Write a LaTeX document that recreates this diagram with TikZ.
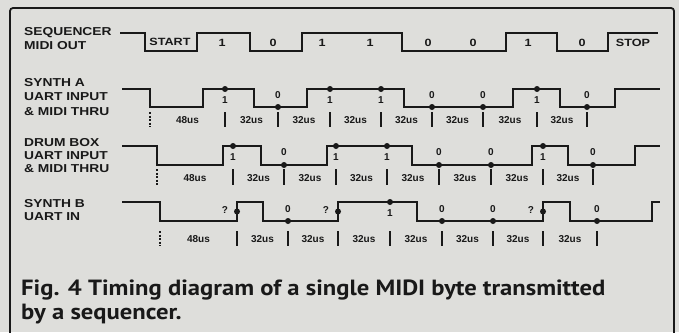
\documentclass[tikz,border=0pt]{standalone}
\usepackage{fontspec}
\setmainfont{Liberation Sans}
\newfontfamily\lbl[FakeStretch=1.2]{Liberation Sans}
\newfontfamily\durf{Liberation Sans}
\newfontfamily\capfont[FakeStretch=1.12]{PT Sans}
\definecolor{bgc}{RGB}{222,222,219}
\definecolor{ink}{RGB}{25,25,25}
\begin{document}
\begin{tikzpicture}[x=1pt,y=-1pt,
  wave/.style={draw=ink, line width=1.9pt, line join=miter},
  tickln/.style={draw=ink, line width=1.3pt},
  dtick/.style={draw=ink, line width=1.2pt, dash pattern=on 2pt off 1.5pt},
  sdot/.style={circle, fill=ink, inner sep=0pt, minimum size=6pt},
  rowlbl/.style={anchor=west, inner sep=0pt, text=ink, font=\lbl\bfseries\fontsize{11.5}{12}\selectfont},
  bitlbl/.style={inner sep=0pt, text=ink, font=\lbl\bfseries\fontsize{10.5}{11}\selectfont},
  mklbl/.style={inner sep=0pt, text=ink, font=\durf\bfseries\fontsize{10}{11}\selectfont},
  durlbl/.style={inner sep=0pt, text=ink, font=\durf\bfseries\fontsize{10}{11}\selectfont},
  caplbl/.style={anchor=base west, inner sep=0pt, text=ink, font=\capfont\bfseries\fontsize{22}{24}\selectfont}]
\fill[bgc] (0,0) rectangle (679,332);
\useasboundingbox (0,0) rectangle (679,332);
% frame
\draw[draw=ink, line width=1.8pt, rounded corners=3pt] (10,333) -- (10,8) -- (674,8) -- (674,333);

% row labels
\node[rowlbl] (l1a) at (24,33) {SEQUENCER};
\node[rowlbl] (l1b) at (24,45.5) {MIDI OUT};
\node[rowlbl] (l2a) at (24,83) {SYNTH A};
\node[rowlbl] (l2b) at (24,97) {UART INPUT};
\node[rowlbl] (l2c) at (24,111.5) {\& MIDI THRU};
\node[rowlbl] (l3a) at (24,142.5) {DRUM BOX};
\node[rowlbl] (l3b) at (24,156) {UART INPUT};
\node[rowlbl] (l3c) at (24,169) {\& MIDI THRU};
\node[rowlbl] (l4a) at (24,204) {SYNTH B};
\node[rowlbl] (l4b) at (24,216.5) {UART IN};

% ---------- row 1: sequencer MIDI out
\draw[wave] (120,33) -- (145,33) -- (145,51) -- (197,51) -- (197,33) -- (250,33) -- (250,51) -- (302,51) -- (302,33)
  -- (402,33) -- (402,51) -- (506,51) -- (506,33) -- (557,33) -- (557,51) -- (608,51) -- (608,33) -- (658,33);
\node[bitlbl] (s0) at (170,41.5) {START};
\foreach \x/\b [count=\i] in {222/1,273/0,322/1,370/1,428/0,473/0,528/1,582/0}
  \node[bitlbl] (b1\i) at (\x,43) {\b};
\node[bitlbl] (sp) at (633,42.5) {STOP};

% ---------- row 2: synth A
\draw[wave] (122,89) -- (150,89) -- (150,107) -- (203,107) -- (203,89) -- (254,89) -- (254,107) -- (307,107) -- (307,89)
  -- (404,89) -- (404,107) -- (513,107) -- (513,89) -- (560,89) -- (560,107) -- (615,107) -- (615,89) -- (660,89);
\foreach \x [count=\i] in {225,330,381,537} {
  \node[sdot] (d2h\i) at (\x,89) {};
  \node[mklbl] (m2h\i) at (\x,100) {1};
}
\foreach \x [count=\i] in {278,432,483,587} {
  \node[sdot] (d2l\i) at (\x,107) {};
  \node[mklbl] (m2l\i) at (\x,95) {0};
}
\draw[dtick] (150,112) -- (150,127);
\foreach \x in {225,278,330,381,432,483,537,587}
  \draw[tickln] (\x,112) -- (\x,127);
\node[durlbl] (t2a) at (187.5,120) {48us};
\foreach \a/\b [count=\i] in {225/278,278/330,330/381,381/432,432/483,483/537,537/587}
  \node[durlbl] (t2\i) at ({(\a+\b)/2},120) {32us};

% ---------- row 3: drum box
\draw[wave] (122,146) -- (157,146) -- (157,165) -- (223,165) -- (223,146) -- (261,146) -- (261,165) -- (327,165) -- (327,146)
  -- (412,146) -- (412,165) -- (532,165) -- (532,146) -- (568,146) -- (568,165) -- (635,165) -- (635,146) -- (660,146);
\foreach \x [count=\i] in {233,336,387,543} {
  \node[sdot] (d3h\i) at (\x,146) {};
  \node[mklbl] (m3h\i) at (\x,157) {1};
}
\foreach \x [count=\i] in {284,439,491,593} {
  \node[sdot] (d3l\i) at (\x,165) {};
  \node[mklbl] (m3l\i) at (\x,152.5) {0};
}
\draw[dtick] (157,169) -- (157,185);
\foreach \x in {233,284,336,387,439,491,543,593}
  \draw[tickln] (\x,169) -- (\x,185);
\node[durlbl] (t3a) at (195,178.5) {48us};
\foreach \a/\b [count=\i] in {233/284,284/336,336/387,387/439,439/491,491/543,543/593}
  \node[durlbl] (t3\i) at ({(\a+\b)/2},178.5) {32us};

% ---------- row 4: synth B
\draw[wave] (122,202) -- (160,202) -- (160,221) -- (237,221) -- (237,202) -- (263,202) -- (263,221) -- (338,221) -- (338,202)
  -- (417,202) -- (417,221) -- (543,221) -- (543,202) -- (570,202) -- (570,221) -- (652,221) -- (652,202) -- (660,202);
\foreach \x [count=\i] in {237,338,543} {
  \node[sdot] (d4q\i) at (\x,211.5) {};
  \node[mklbl] (m4q\i) at (\x-12,210.5) {?};
}
\node[sdot] (d4h1) at (390,202) {};
\node[mklbl] (m4h1) at (390,213) {1};
\foreach \x [count=\i] in {288,442,493,597} {
  \node[sdot] (d4l\i) at (\x,221) {};
  \node[mklbl] (m4l\i) at (\x,209) {0};
}
\draw[dtick] (160,231) -- (160,246);
\foreach \x in {237,288,338,390,442,493,543,597}
  \draw[tickln] (\x,231) -- (\x,246);
\node[durlbl] (t4a) at (198.5,239) {48us};
\foreach \a/\b [count=\i] in {237/288,288/338,338/390,390/442,442/493,493/543,543/597}
  \node[durlbl] (t4\i) at ({(\a+\b)/2},239) {32us};

% ---------- caption
\node[caplbl] (cap1) at (21,295) {Fig. 4 Timing diagram of a single MIDI byte transmitted};
\node[caplbl] (cap2) at (21,319) {by a sequencer.};
\end{tikzpicture}
\end{document}
